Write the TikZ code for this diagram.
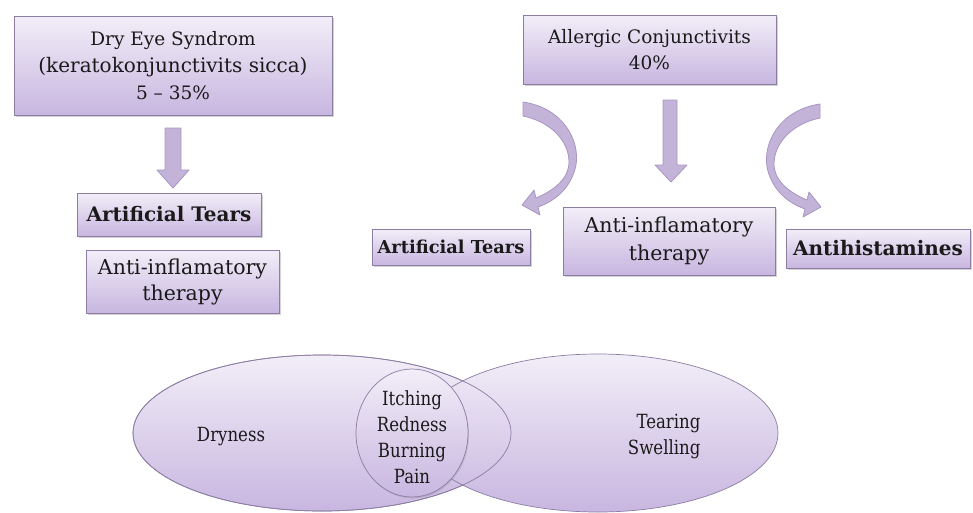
\documentclass[tikz,border=0pt]{standalone}
\usepackage{fontspec}
\setmainfont{DejaVu Serif}
\newfontfamily\vennfont[FakeStretch=0.85]{DejaVu Serif}
\usetikzlibrary{shapes.geometric,shadows}
\definecolor{boxtop}{HTML}{F2EEF8}
\definecolor{boxbot}{HTML}{C8B6E0}
\definecolor{boxedge}{HTML}{8C7DA3}
\definecolor{arrowfill}{HTML}{C3B3D9}
\definecolor{arrowedge}{HTML}{A897C2}
\definecolor{txt}{HTML}{1A1A1A}
\begin{document}
\begin{tikzpicture}[x=1pt,y=-1pt,
  box/.style={draw=boxedge, line width=0.8pt, top color=boxtop, bottom color=boxbot,
    drop shadow={shadow xshift=1.5pt, shadow yshift=-2pt, opacity=0.35},
    inner sep=0pt, align=center, text=txt, font=\fontsize{18.5}{27}\selectfont},
  boldbox/.style={box, font=\fontsize{20}{27}\selectfont\bfseries},
  vennshape/.style={ellipse, draw=boxedge, line width=0.7pt, top color=boxtop, bottom color=boxbot, inner sep=0pt},
  venntext/.style={text=txt, font=\vennfont\fontsize{19.5}{26}\selectfont},
  blockarrow/.style={fill=arrowfill, draw=arrowedge, line width=0.8pt, line join=round}
]
\useasboundingbox (0,0) rectangle (973,512);
\clip (0,0) rectangle (973,512);

% top boxes
\node[box, minimum width=318pt, minimum height=99pt] (dry) at (173,65.5)
  {Dry Eye Syndrom\\{\fontsize{20}{27}\selectfont(keratokonjunctivits sicca)}\\5 -- 35\%};
\node[box, minimum width=253pt, minimum height=69pt, font=\fontsize{18.5}{26}\selectfont] (allergic) at (649.5,49.5)
  {Allergic Conjunctivits\\40\%};

% left branch
\node[boldbox, minimum width=184pt, minimum height=43pt] (atL) at (169,214.5) {Artificial Tears};
\node[box, minimum width=193pt, minimum height=63pt, font=\fontsize{20.5}{26}\selectfont] (aiL) at (182.5,281.5) {Anti-inflamatory\\therapy};

% right branch
\node[boldbox, minimum width=158pt, minimum height=36pt, font=\fontsize{17.8}{24}\selectfont\bfseries] (atR) at (451,247) {Artificial Tears};
\node[box, minimum width=212pt, minimum height=68pt, font=\fontsize{20.5}{28}\selectfont] (aiC) at (669,241) {Anti-inflamatory\\therapy};
\node[boldbox, minimum width=184pt, minimum height=39pt] (ah) at (878,248.5) {Antihistamines};

% straight block arrows
\draw[blockarrow] (165,128) -- (181,128) -- (181,170) -- (189,170) -- (173,188) -- (157,170) -- (165,170) -- cycle;
\draw[blockarrow] (663,100) -- (677,100) -- (677,165) -- (687,165) -- (671,182) -- (655,165) -- (663,165) -- cycle;

% curved block arrows
\draw[blockarrow] (523,102) .. controls (563,108) and (580,140) .. (576,165)
  .. controls (572,185) and (558,200) .. (538,207) -- (540,215) -- (522,205) -- (534,190) -- (536,198)
  .. controls (555,190) and (569,178) .. (569,162) .. controls (569,142) and (552,122) .. (523,116) -- cycle;
\draw[blockarrow] (820,104) .. controls (780,110) and (763,142) .. (767,167)
  .. controls (771,187) and (785,202) .. (805,209) -- (803,217) -- (821,207) -- (809,192) -- (807,200)
  .. controls (788,192) and (774,180) .. (774,164) .. controls (774,144) and (791,124) .. (820,118) -- cycle;

% Venn diagram
\node[vennshape, minimum width=378pt, minimum height=156pt] (dryE) at (322,433) {};
\node[vennshape, minimum width=360pt, minimum height=158pt] (tearE) at (598,433) {};
\draw[draw=boxedge, line width=0.7pt] (dryE.center) ellipse [x radius=189, y radius=78];
\node[vennshape, minimum width=112pt, minimum height=128pt,
  drop shadow={shadow xshift=1pt, shadow yshift=-1.5pt, opacity=0.25}] (itchC) at (412,433) {};
\node[venntext] (dryT) at (231,437) {Dryness};
\node[venntext, align=right, anchor=east] (tearT) at (704,436) {Tearing\\Swelling};
\node[venntext, align=center] (itchT) at (412,437) {Itching\\Redness\\Burning\\Pain};
\end{tikzpicture}
\end{document}
